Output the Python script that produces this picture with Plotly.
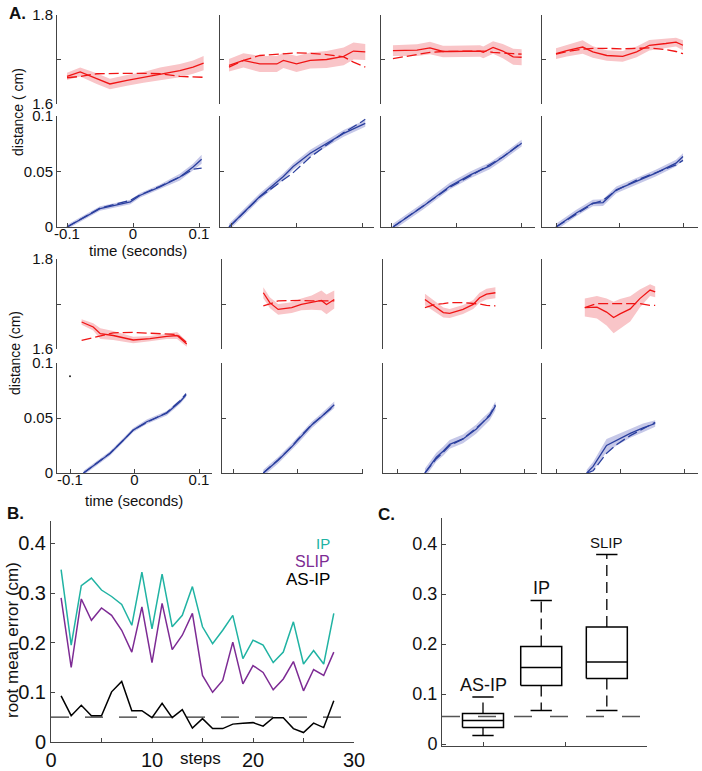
import plotly.graph_objects as go

W, H = 702, 771

# ---------------- Panel A data (time in s, distance in cm) ----------------
r1_t = [-0.100, -0.080, -0.055, -0.035, -0.009, 0.016, 0.041, 0.071, 0.091, 0.107]
r1_mean = [1.662, 1.672, 1.657, 1.645, 1.653, 1.660, 1.668, 1.675, 1.683, 1.692]
r1_model = [1.659, 1.662, 1.668, 1.669, 1.669, 1.669, 1.668, 1.662, 1.660, 1.660]
r1_sd = [0.008, 0.010, 0.012, 0.012, 0.012, 0.012, 0.014, 0.015, 0.015, 0.016]
b1_t = [-0.100, -0.050, -0.004, 0.011, 0.040, 0.071, 0.091, 0.104]
b1_mean = [0.000, 0.0166, 0.0226, 0.0286, 0.036, 0.045, 0.054, 0.061]
b1_model = [0.000, 0.0170, 0.0240, 0.0290, 0.0365, 0.045, 0.052, 0.053]
b1_sd = [0.002, 0.002, 0.002, 0.002, 0.002, 0.003, 0.003, 0.004]

r2_t = [-0.103, -0.081, -0.056, -0.030, -0.020, 0.000, 0.021, 0.046, 0.072, 0.087, 0.105]
r2_mean = [1.687, 1.698, 1.690, 1.690, 1.698, 1.690, 1.698, 1.700, 1.707, 1.719, 1.717]
r2_model = [1.683, 1.698, 1.709, 1.712, 1.714, 1.715, 1.714, 1.711, 1.706, 1.694, 1.683]
r2_sd = [0.014, 0.016, 0.018, 0.018, 0.017, 0.018, 0.018, 0.019, 0.020, 0.019, 0.018]
b2_t = [-0.103, -0.056, -0.020, -0.005, 0.021, 0.046, 0.072, 0.100, 0.105]
b2_mean = [0.000, 0.0275, 0.0455, 0.0545, 0.0665, 0.0754, 0.0844, 0.092, 0.0934]
b2_model = [0.000, 0.027, 0.0425, 0.049, 0.063, 0.074, 0.085, 0.095, 0.097]
b2_sd = [0.003, 0.003, 0.003, 0.003, 0.003, 0.003, 0.003, 0.003, 0.003]

r3_t = [-0.097, -0.060, -0.040, -0.020, -0.009, 0.037, 0.042, 0.057, 0.072, 0.088, 0.101]
r3_mean = [1.720, 1.721, 1.726, 1.718, 1.718, 1.719, 1.716, 1.727, 1.719, 1.706, 1.705]
r3_model = [1.702, 1.712, 1.716, 1.718, 1.718, 1.719, 1.719, 1.716, 1.714, 1.713, 1.712]
r3_sd = [0.012, 0.013, 0.014, 0.013, 0.013, 0.013, 0.013, 0.014, 0.016, 0.018, 0.018]
b3_t = [-0.097, -0.050, -0.009, 0.022, 0.052, 0.072, 0.101]
b3_mean = [0.000, 0.019, 0.037, 0.047, 0.055, 0.063, 0.0755]
b3_model = [0.000, 0.019, 0.036, 0.046, 0.056, 0.063, 0.076]
b3_sd = [0.003, 0.003, 0.003, 0.003, 0.003, 0.003, 0.003]

r4_t = [-0.100, -0.083, -0.058, -0.042, -0.020, 0.005, 0.027, 0.047, 0.073, 0.089, 0.100]
r4_mean = [1.713, 1.720, 1.728, 1.717, 1.709, 1.707, 1.717, 1.732, 1.736, 1.739, 1.732]
r4_model = [1.712, 1.718, 1.723, 1.725, 1.725, 1.724, 1.725, 1.726, 1.722, 1.718, 1.713]
r4_sd = [0.012, 0.013, 0.015, 0.013, 0.012, 0.012, 0.012, 0.012, 0.011, 0.010, 0.011]
b4_t = [-0.100, -0.068, -0.042, -0.026, -0.005, 0.026, 0.057, 0.089, 0.100]
b4_mean = [0.000, 0.0126, 0.0216, 0.022, 0.0335, 0.041, 0.0485, 0.0575, 0.0635]
b4_model = [0.000, 0.012, 0.021, 0.024, 0.033, 0.042, 0.049, 0.056, 0.060]
b4_sd = [0.003, 0.003, 0.003, 0.003, 0.003, 0.003, 0.003, 0.003, 0.003]

r5_t = [-0.082, -0.064, -0.053, -0.033, -0.002, 0.024, 0.050, 0.066, 0.081]
r5_mean = [1.660, 1.649, 1.634, 1.630, 1.620, 1.623, 1.628, 1.630, 1.611]
r5_model = [1.619, 1.625, 1.630, 1.636, 1.637, 1.635, 1.633, 1.632, 1.614]
r5_sd = [0.006, 0.008, 0.012, 0.010, 0.007, 0.006, 0.006, 0.008, 0.006]
b5_t = [-0.079, -0.038, -0.017, -0.002, 0.019, 0.050, 0.071, 0.080]
b5_mean = [0.000, 0.0177, 0.030, 0.039, 0.0466, 0.0543, 0.065, 0.071]
b5_model = [0.000, 0.018, 0.030, 0.039, 0.046, 0.055, 0.066, 0.072]
b5_sd = [0.002, 0.002, 0.002, 0.002, 0.002, 0.002, 0.002, 0.002]
b5_stray_t = [-0.100]
b5_stray_v = [0.088]

r6_t = [-0.053, -0.043, -0.030, -0.009, 0.006, 0.022, 0.037, 0.045, 0.057]
r6_mean = [1.725, 1.703, 1.688, 1.692, 1.699, 1.703, 1.708, 1.699, 1.710]
r6_model = [1.696, 1.700, 1.707, 1.708, 1.708, 1.707, 1.707, 1.707, 1.707]
r6_sd = [0.012, 0.012, 0.012, 0.012, 0.013, 0.016, 0.022, 0.022, 0.020]
b6_t = [-0.053, -0.030, -0.009, 0.001, 0.022, 0.037, 0.057]
b6_mean = [0.000, 0.0116, 0.0238, 0.030, 0.0436, 0.0512, 0.062]
b6_model = [0.000, 0.012, 0.024, 0.031, 0.044, 0.051, 0.061]
b6_sd = [0.003, 0.003, 0.003, 0.003, 0.003, 0.003, 0.003]

r7_t = [-0.056, -0.040, -0.027, -0.017, 0.004, 0.020, 0.030, 0.041, 0.055]
r7_mean = [1.710, 1.695, 1.681, 1.679, 1.688, 1.699, 1.714, 1.722, 1.725]
r7_model = [1.692, 1.699, 1.701, 1.703, 1.703, 1.702, 1.700, 1.697, 1.696]
r7_sd = [0.013, 0.012, 0.011, 0.010, 0.010, 0.010, 0.011, 0.012, 0.012]
b7_t = [-0.056, -0.038, -0.027, -0.017, 0.004, 0.015, 0.025, 0.035, 0.046, 0.055]
b7_mean = [0.000, 0.0144, 0.020, 0.026, 0.031, 0.0356, 0.040, 0.046, 0.052, 0.061]
b7_model = [0.000, 0.013, 0.019, 0.025, 0.031, 0.036, 0.041, 0.046, 0.053, 0.062]
b7_sd = [0.004, 0.004, 0.004, 0.004, 0.004, 0.004, 0.004, 0.004, 0.004, 0.004]

r8_t = [-0.055, -0.036, -0.021, -0.010, 0.000, 0.016, 0.031, 0.047, 0.055]
r8_mean = [1.692, 1.693, 1.682, 1.670, 1.678, 1.689, 1.712, 1.731, 1.727]
r8_model = [1.692, 1.701, 1.701, 1.701, 1.701, 1.701, 1.701, 1.697, 1.697]
r8_sd = [0.020, 0.025, 0.030, 0.035, 0.033, 0.028, 0.020, 0.013, 0.012]
b8_t = [-0.052, -0.042, -0.021, -0.005, 0.016, 0.036, 0.055]
b8_mean = [0.000, 0.006, 0.025, 0.030, 0.036, 0.041, 0.045]
b8_model = [0.000, 0.002, 0.018, 0.026, 0.034, 0.040, 0.046]
b8_sd = [0.003, 0.004, 0.006, 0.005, 0.004, 0.004, 0.003]

red_ticks = [1.6, 1.7, 1.8]
red_ticktext = ["1.6", "", "1.8"]
blue_ticks = [0, 0.05, 0.1]
blue_ticktext = ["0", "0.05", "0.1"]
time_ticks = [-0.1, 0, 0.1]
time_ticktext = ["-0.1", "0", "0.1"]

# ---------------- Panel B data ----------------
steps = list(range(1, 29))
rmse_ip = [0.347, 0.195, 0.315, 0.330, 0.306, 0.293, 0.277, 0.235, 0.342, 0.228,
           0.338, 0.232, 0.255, 0.313, 0.232, 0.198, 0.225, 0.255, 0.168, 0.205,
           0.195, 0.160, 0.181, 0.242, 0.157, 0.184, 0.157, 0.259]
rmse_slip = [0.290, 0.150, 0.288, 0.245, 0.270, 0.255, 0.225, 0.181, 0.272, 0.160,
             0.279, 0.186, 0.215, 0.259, 0.134, 0.100, 0.124, 0.201, 0.117, 0.154,
             0.140, 0.105, 0.127, 0.162, 0.103, 0.146, 0.134, 0.181]
rmse_asip = [0.093, 0.053, 0.074, 0.053, 0.053, 0.101, 0.122, 0.063, 0.063, 0.049,
             0.078, 0.049, 0.065, 0.028, 0.047, 0.027, 0.027, 0.036, 0.038, 0.039,
             0.032, 0.049, 0.049, 0.027, 0.019, 0.038, 0.029, 0.083]
ref_level_b = 0.05
ref_span_b = [0, 30]

# ---------------- Panel C data ----------------
box_names = ["AS-IP", "IP", "SLIP"]
box_pos = [0.5, 1.21, 2.01]
box_low = [0.017, 0.067, 0.067]
box_q1 = [0.033, 0.117, 0.131]
box_med = [0.047, 0.153, 0.164]
box_q3 = [0.061, 0.195, 0.234]
box_high = [0.094, 0.287, 0.379]
ref_level_c = 0.055
ref_span_c = [0, 2.47]

# ---------------- styling ----------------
FONT = "Arial, Liberation Sans, sans-serif"
AX = "#444444"
RED = "#f01414"
RED_FILL = "#f9c5c8"
BLUE = "#2a3f9e"
BLUE_FILL = "#c6c8e8"
TEAL = "#20b3a3"
PURPLE = "#7d2b94"


def xd(a, b):
    return [a / W, b / W]


def yd(top, bottom):
    return [1 - bottom / H, 1 - top / H]


panels = [
    (r1_t, r1_mean, r1_model, r1_sd, b1_t, b1_mean, b1_model, b1_sd),
    (r2_t, r2_mean, r2_model, r2_sd, b2_t, b2_mean, b2_model, b2_sd),
    (r3_t, r3_mean, r3_model, r3_sd, b3_t, b3_mean, b3_model, b3_sd),
    (r4_t, r4_mean, r4_model, r4_sd, b4_t, b4_mean, b4_model, b4_sd),
    (r5_t, r5_mean, r5_model, r5_sd, b5_t, b5_mean, b5_model, b5_sd),
    (r6_t, r6_mean, r6_model, r6_sd, b6_t, b6_mean, b6_model, b6_sd),
    (r7_t, r7_mean, r7_model, r7_sd, b7_t, b7_mean, b7_model, b7_sd),
    (r8_t, r8_mean, r8_model, r8_sd, b8_t, b8_mean, b8_model, b8_sd),
]

# pixel geometry: [left, tick(-0.1), tick(0.1), right] per column, per block
geo = [
    [(57, 67, 199, 210), (220, 231, 362, 374), (381, 391, 521, 535), (542, 556, 683, 698)],
    [(57, 70, 199, 212), (222, 233, 362, 363), (383, 397, 524, 537), (542, 556, 684, 698)],
]
rows = [((15, 104), (116, 227)), ((259, 349), (363, 473))]

fig = go.Figure()
layout = dict(
    template="none",
    width=W, height=H, margin=dict(l=0, r=0, t=0, b=0, pad=0, autoexpand=False),
    paper_bgcolor="white", plot_bgcolor="white", showlegend=False,
    font=dict(family=FONT, color="#111111"),
)

axis_common = dict(showline=True, linecolor=AX, linewidth=1, ticks="inside",
                   ticklen=4, tickcolor=AX, showgrid=False, zeroline=False,
                   automargin=False, mirror=False,
                   tickfont=dict(size=15, family=FONT, color="#111111"))

ax_i = 0


def band(t, m, s):
    up = [a + b for a, b in zip(m, s)]
    lo = [a - b for a, b in zip(m, s)]
    return t + t[::-1], up + lo[::-1]


for p_idx, (rt, rm, rmod, rsd, bt, bm, bmod, bsd) in enumerate(panels):
    blk = p_idx // 4
    col = p_idx % 4
    left, tm, tp, right = geo[blk][col]
    mid = (tm + tp) / 2
    scale = (tp - tm) / 0.2
    xr = [(left - mid) / scale, (right - mid) / scale]
    (rtop, rbot), (btop, bbot) = rows[blk]
    first = col == 0

    # red panel
    ax_i += 1
    xa, ya = f"x{ax_i}", f"y{ax_i}"
    bx, by = band(rt, rm, rsd)
    fig.add_trace(go.Scatter(x=bx, y=by, fill="toself", fillcolor=RED_FILL,
                             line=dict(width=0), mode="lines", hoverinfo="skip",
                             xaxis=xa, yaxis=ya))
    fig.add_trace(go.Scatter(x=rt, y=rmod, mode="lines",
                             line=dict(color=RED, width=1.3, dash="10px,4px"),
                             xaxis=xa, yaxis=ya))
    fig.add_trace(go.Scatter(x=rt, y=rm, mode="lines",
                             line=dict(color=RED, width=1.3), xaxis=xa, yaxis=ya))
    layout[f"xaxis{ax_i}"] = dict(domain=xd(left, right), range=xr, visible=False,
                                  automargin=False, anchor=ya)
    layout[f"yaxis{ax_i}"] = dict(axis_common, domain=yd(rtop, rbot), range=[1.6, 1.8],
                                  tickvals=red_ticks, ticktext=red_ticktext,
                                  showticklabels=first, anchor=xa)

    # blue panel
    ax_i += 1
    xa, ya = f"x{ax_i}", f"y{ax_i}"
    bx, by = band(bt, bm, bsd)
    fig.add_trace(go.Scatter(x=bx, y=by, fill="toself", fillcolor=BLUE_FILL,
                             line=dict(width=0), mode="lines", hoverinfo="skip",
                             xaxis=xa, yaxis=ya))
    fig.add_trace(go.Scatter(x=bt, y=bmod, mode="lines",
                             line=dict(color=BLUE, width=1.3, dash="10px,4px"),
                             xaxis=xa, yaxis=ya))
    fig.add_trace(go.Scatter(x=bt, y=bm, mode="lines",
                             line=dict(color=BLUE, width=1.3), xaxis=xa, yaxis=ya))
    if p_idx == 4:
        fig.add_trace(go.Scatter(x=b5_stray_t, y=b5_stray_v, mode="markers",
                                 marker=dict(color="#222", size=2), xaxis=xa, yaxis=ya))
    layout[f"xaxis{ax_i}"] = dict(axis_common, domain=xd(left, right), range=xr,
                                  tickvals=time_ticks, ticktext=time_ticktext,
                                  showticklabels=first, ticklabelstandoff=-7,
                                  anchor=ya)
    layout[f"yaxis{ax_i}"] = dict(axis_common, domain=yd(btop, bbot), range=[0, 0.1],
                                  tickvals=blue_ticks, ticktext=blue_ticktext,
                                  showticklabels=first, anchor=xa)

# ---------------- Panel B ----------------
ax_i += 1
xb, yb = f"x{ax_i}", f"y{ax_i}"
fig.add_trace(go.Scatter(x=ref_span_b, y=[ref_level_b, ref_level_b], mode="lines",
                         line=dict(color="#333", width=1.3, dash="18px,16px"),
                         xaxis=xb, yaxis=yb))
fig.add_trace(go.Scatter(x=steps, y=rmse_ip, mode="lines",
                         line=dict(color=TEAL, width=1.5), xaxis=xb, yaxis=yb))
fig.add_trace(go.Scatter(x=steps, y=rmse_slip, mode="lines",
                         line=dict(color=PURPLE, width=1.5), xaxis=xb, yaxis=yb))
fig.add_trace(go.Scatter(x=steps, y=rmse_asip, mode="lines",
                         line=dict(color="black", width=1.5), xaxis=xb, yaxis=yb))
layout[f"xaxis{ax_i}"] = dict(axis_common, domain=xd(51, 354), range=[0, 30],
                              tickvals=[0, 5, 10, 15, 20, 25, 30],
                              ticktext=["0", "", "10", "", "20", "", "30"],
                              tickfont=dict(size=20, family=FONT, color="#111"),
                              anchor=yb)
layout[f"yaxis{ax_i}"] = dict(axis_common, domain=yd(521, 742), range=[0, 0.445],
                              tickvals=[0, 0.1, 0.2, 0.3, 0.4],
                              ticktext=["0", "0.1", "0.2", "0.3", "0.4"],
                              tickfont=dict(size=20, family=FONT, color="#111"),
                              anchor=xb)

# ---------------- Panel C ----------------
ax_i += 1
xc, yc = f"x{ax_i}", f"y{ax_i}"
fig.add_trace(go.Scatter(x=ref_span_c, y=[ref_level_c, ref_level_c], mode="lines",
                         line=dict(color="#555", width=1.3, dash="18px,18px"),
                         xaxis=xc, yaxis=yc))
half_box, half_cap = 0.25, 0.13
for pos, lo, q1, med, q3, hi in zip(box_pos, box_low, box_q1, box_med, box_q3, box_high):
    fig.add_trace(go.Scatter(x=[pos - half_box, pos + half_box, pos + half_box,
                                pos - half_box, pos - half_box],
                             y=[q1, q1, q3, q3, q1], mode="lines",
                             line=dict(color="black", width=1.5), xaxis=xc, yaxis=yc))
    fig.add_trace(go.Scatter(x=[pos - half_box, pos + half_box], y=[med, med],
                             mode="lines", line=dict(color="black", width=1.5),
                             xaxis=xc, yaxis=yc))
    for a, b in ((q3, hi), (q1, lo)):
        fig.add_trace(go.Scatter(x=[pos, pos], y=[a, b], mode="lines",
                                 line=dict(color="black", width=1.3, dash="11px,6px"),
                                 xaxis=xc, yaxis=yc))
        fig.add_trace(go.Scatter(x=[pos - half_cap, pos + half_cap], y=[b, b],
                                 mode="lines", line=dict(color="black", width=1.5),
                                 xaxis=xc, yaxis=yc))
layout[f"xaxis{ax_i}"] = dict(axis_common, domain=xd(442, 647), range=[0, 2.5],
                              tickvals=[0.5, 1.5, 2.5], showticklabels=False, anchor=yc)
layout[f"yaxis{ax_i}"] = dict(axis_common, domain=yd(518, 746), range=[-0.004, 0.452],
                              tickvals=[0, 0.1, 0.2, 0.3, 0.4],
                              ticktext=["0", "0.1", "0.2", "0.3", "0.4"],
                              tickfont=dict(size=18, family=FONT, color="#111"),
                              anchor=xc)


# ---------------- annotations ----------------
def ptxt(text, px, py, size, angle=0, bold=False, color="#111", xanchor="center"):
    return dict(text=f"<b>{text}</b>" if bold else text, x=px / W, y=1 - py / H,
                xref="paper", yref="paper", showarrow=False, textangle=angle,
                xanchor=xanchor, yanchor="middle",
                font=dict(size=size, family=FONT, color=color))


ann = [
    ptxt("A.", 17, 13, 17, bold=True),
    ptxt("B.", 15, 513, 17, bold=True),
    ptxt("C.", 386, 514, 17, bold=True),
    ptxt("distance ( cm)", 18, 112, 14, angle=-90),
    ptxt("distance (cm)", 15, 353, 14, angle=-90),
    ptxt("time (seconds)", 138, 251, 15),
    ptxt("time (seconds)", 134, 500, 15),
    ptxt("root mean error (cm)", 12, 640, 17, angle=-90),
    ptxt("steps", 200, 758, 17),
]
legend_b = (("IP", 0.399, TEAL, 15), ("SLIP", 0.364, PURPLE, 16),
            ("AS-IP", 0.328, "black", 17))
for txt, yv, colr, sz in legend_b:
    ann.append(dict(text=txt, x=27.8, y=yv, xref=xb, yref=yb, showarrow=False,
                    xanchor="right", yanchor="middle",
                    font=dict(size=sz, family=FONT, color=colr)))
label_y = [0.119, 0.313, 0.403]
label_size = [18, 18, 15]
for name, pos, yv, sz in zip(box_names, box_pos, label_y, label_size):
    ann.append(dict(text=name, x=pos, y=yv, xref=xc, yref=yc, showarrow=False,
                    xanchor="center", yanchor="middle",
                    font=dict(size=sz, family=FONT, color="#111")))
layout["annotations"] = ann

fig.update_layout(**layout)
fig.write_html("out.html", config={"displayModeBar": False},
               post_script="document.body.style.margin='0';document.body.style.overflow='hidden';")
